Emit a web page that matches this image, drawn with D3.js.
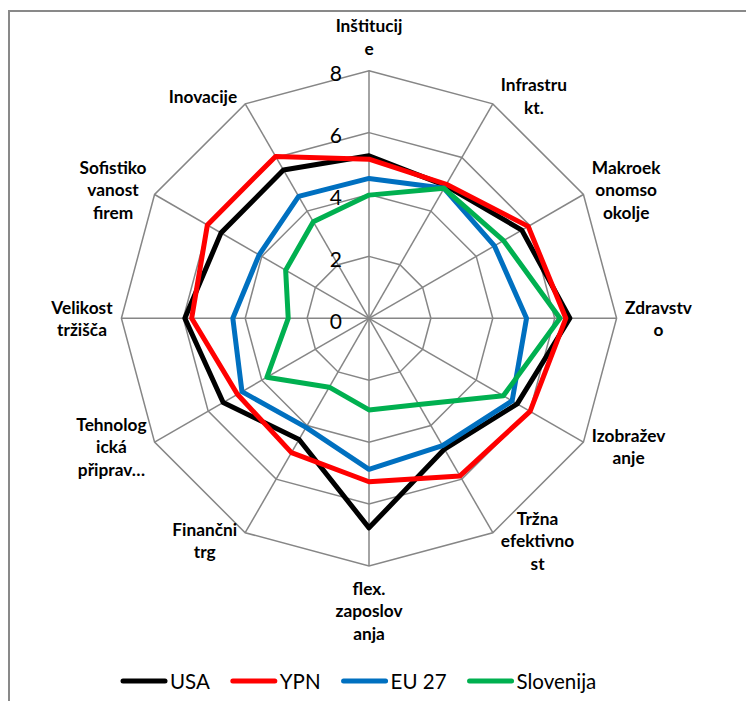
<!DOCTYPE html>
<html>
<head>
<meta charset="utf-8">
<script src="https://cdn.jsdelivr.net/npm/d3@7"></script>
<style>
  html, body { margin: 0; padding: 0; background: #ffffff; }
  svg { display: block; }
  .cat { font-family: Lato, "Open Sans", sans-serif; font-weight: 700; font-size: 17.3px; fill: #000; }
  .tick { font-family: Lato, "Open Sans", sans-serif; font-size: 21px; fill: #000; }
  .leg { font-family: Lato, "Open Sans", sans-serif; font-size: 20.5px; fill: #000; }
</style>
</head>
<body>
<svg id="chart" width="746" height="701"></svg>
<script>
// Category labels, clockwise from the top, already wrapped into lines
const categories = [
  ["Inštitucij", "e"],
  ["Infrastru", "kt."],
  ["Makroek", "onomso", "okolje"],
  ["Zdravstv", "o"],
  ["Izobražev", "anje"],
  ["Tržna", "efektivno", "st"],
  ["flex.", "zaposlov", "anja"],
  ["Finančni", "trg"],
  ["Tehnolog", "ická", "připrav…"],
  ["Velikost", "tržišča"],
  ["Sofistiko", "vanost", "firem"],
  ["Inovacije"]
];

// Series values per category
const usa       = [5.25, 4.95, 5.70, 6.49, 5.53, 4.88, 6.77, 4.52, 5.44, 5.95, 5.52, 5.53];
const ypn       = [5.14, 5.00, 5.94, 6.36, 6.01, 5.88, 5.28, 5.01, 4.91, 5.73, 6.03, 6.04];
const eu27      = [4.52, 4.85, 4.68, 5.09, 5.34, 4.75, 4.88, 4.07, 4.74, 4.40, 4.10, 4.55];
const slovenija = [3.98, 4.85, 5.02, 6.17, 5.01, 3.22, 2.96, 2.57, 3.81, 2.61, 3.11, 3.60];

const seriesNames  = ["USA", "YPN", "EU 27", "Slovenija"];
const seriesColors = ["#000000", "#ff0000", "#0070c0", "#00b050"];
const seriesValues = [usa, ypn, eu27, slovenija];

// Radial axis ticks
const ticks = [0, 2, 4, 6, 8];

const svg = d3.select("#chart");
const cx = 369, cy = 318.3, R = 247.6;
const gridColor = "#868686";

// Chart area frame
svg.append("path")
  .attr("d", "M9,701 L9,11 L746,11")
  .attr("fill", "none")
  .attr("stroke", "#898989")
  .attr("stroke-width", 2);

const g = svg.append("g").attr("transform", `translate(${cx},${cy})`);

const n = categories.length;
const angle = d3.scaleLinear().domain([0, n]).range([0, 2 * Math.PI]);
const r = d3.scaleLinear().domain([0, d3.max(ticks)]).range([0, R]);

const idx = d3.range(n);

// Grid polygons
const ring = v => d3.lineRadial()
  .angle(i => angle(i))
  .radius(() => r(v))
  .curve(d3.curveLinearClosed)(idx);

g.selectAll("path.grid")
  .data(ticks.filter(t => t > 0))
  .join("path")
  .attr("class", "grid")
  .attr("d", t => ring(t))
  .attr("fill", "none")
  .attr("stroke", gridColor)
  .attr("stroke-width", 1.5);

// Spokes
g.selectAll("line.spoke")
  .data(idx)
  .join("line")
  .attr("class", "spoke")
  .attr("x1", 0).attr("y1", 0)
  .attr("x2", i => d3.pointRadial(angle(i), r(d3.max(ticks)))[0])
  .attr("y2", i => d3.pointRadial(angle(i), r(d3.max(ticks)))[1])
  .attr("stroke", gridColor)
  .attr("stroke-width", 1.5);

// Tick labels along the vertical spoke
g.selectAll("text.tick")
  .data(ticks)
  .join("text")
  .attr("class", "tick")
  .attr("x", -27)
  .attr("y", t => -r(t) + 2)
  .attr("text-anchor", "end")
  .attr("dominant-baseline", "central")
  .text(t => t);

// Series lines
const line = d3.lineRadial()
  .angle((d, i) => angle(i))
  .radius(d => r(d))
  .curve(d3.curveLinearClosed);

g.selectAll("path.series")
  .data(seriesValues)
  .join("path")
  .attr("class", "series")
  .attr("d", d => line(d))
  .attr("fill", "none")
  .attr("stroke", (d, i) => seriesColors[i])
  .attr("stroke-width", 5)
  .attr("stroke-linejoin", "round");

// Category labels placed next to the outer vertex of each spoke
const lh = 22.5;
categories.forEach((lines, i) => {
  const a = angle(i);
  const [vx, vy] = d3.pointRadial(a, r(d3.max(ticks)));
  const t = g.append("text").attr("class", "cat").attr("text-anchor", "middle");
  lines.forEach((s, k) => {
    t.append("tspan")
      .attr("x", 0)
      .attr("y", (k - (lines.length - 1) / 2) * lh)
      .attr("dominant-baseline", "central")
      .text(s);
  });
  const w = t.node().getBBox().width;
  const h = lines.length * lh;
  const s = Math.sin(a), c = Math.cos(a);
  let px, py;
  if (Math.abs(s) < 0.01) {
    px = vx;
    py = vy - c * (h / 2 + 11);
  } else {
    px = vx + Math.sign(s) * (w / 2 + 8);
    py = vy - c * 9;
  }
  t.attr("transform", `translate(${px},${py})`);
});

// Legend
const legY = 681;
const leg = svg.append("g").attr("transform", "translate(123,0)");
let x0 = 0;
seriesNames.forEach((name, i) => {
  const item = leg.append("g").attr("transform", `translate(${x0},0)`);
  item.append("line")
    .attr("x1", 0).attr("x2", 42)
    .attr("y1", legY).attr("y2", legY)
    .attr("stroke", seriesColors[i])
    .attr("stroke-width", 5)
    .attr("stroke-linecap", "round");
  const tx = item.append("text")
    .attr("class", "leg")
    .attr("x", 47)
    .attr("y", legY)
    .attr("dominant-baseline", "central")
    .text(name);
  x0 += 47 + tx.node().getComputedTextLength() + 23;
});
</script>
</body>
</html>
